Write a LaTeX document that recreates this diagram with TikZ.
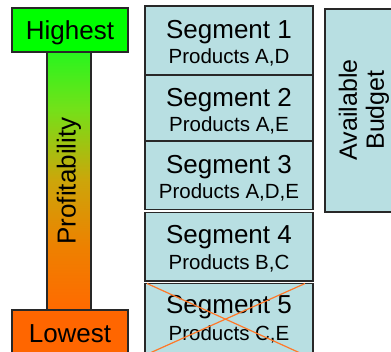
\documentclass[tikz,border=0pt]{standalone}
\usepackage{fontspec}
\setmainfont{Liberation Sans}
\usetikzlibrary{calc}

\definecolor{segfill}{RGB}{184,223,226}
\definecolor{edge}{RGB}{40,40,40}
\definecolor{hiGreen}{RGB}{0,255,0}
\definecolor{loOrange}{RGB}{255,102,0}
\definecolor{barTop}{RGB}{40,245,30}
\definecolor{barUp}{RGB}{115,225,25}
\definecolor{barMid}{RGB}{205,165,10}
\definecolor{barLow}{RGB}{238,128,0}
\definecolor{barBot}{RGB}{255,106,0}
\definecolor{crossOrange}{RGB}{255,120,40}

% green at the top fading to orange at the bottom
\pgfdeclareverticalshading{profshade}{100bp}{%
  color(0bp)=(barBot); color(25bp)=(barBot); color(37bp)=(barLow);
  color(50bp)=(barMid); color(64bp)=(barUp); color(75bp)=(barTop);
  color(100bp)=(barTop)}

\begin{document}
\begin{tikzpicture}[x=1pt,y=-1pt,
  box/.style={draw=edge, line width=1.1pt, inner sep=0pt, outer sep=0pt},
  segbox/.style={box, fill=segfill, minimum width=168pt},
  title/.style={anchor=base, font=\fontsize{26}{28}\selectfont, inner sep=0pt},
  sub/.style={anchor=base, font=\fontsize{20.5}{24}\selectfont, inner sep=0pt},
  endlabel/.style={anchor=base, font=\fontsize{26}{28}\selectfont, inner sep=0pt},
  crossline/.style={draw=crossOrange, line width=1.2pt}]
\useasboundingbox (0,0) rectangle (391,351);
\clip (0,0) rectangle (391,351);

% profitability scale
\node[box, minimum width=44pt, minimum height=258pt, shading=profshade] (bar) at (69,181) {};
\node[rotate=90, font=\fontsize{26}{28}\selectfont, inner sep=0pt] (prof) at (bar.center) {Profitability};

\node[box, fill=hiGreen, minimum width=116pt, minimum height=44pt] (hi) at (70,30) {};
\node[endlabel] (hitext) at (70,39.5) {Highest};

\node[box, fill=loOrange, minimum width=116pt, minimum height=46pt] (lo) at (70,333) {};
\node[endlabel] (lotext) at (70,342) {Lowest};

% segments
\node[segbox, minimum height=69pt] (s1) at (229,40.5) {};
\node[segbox, minimum height=66pt] (s2) at (229,108) {};
\node[segbox, minimum height=68.5pt] (s3) at (229,175.25) {};
\node[segbox, minimum height=68.5pt] (s4) at (229,246.75) {};
\node[segbox, minimum height=69pt] (s5) at (229,318) {};

\node[title] (s1t) at ($(s1.north)+(0,32)$) {Segment 1};
\node[sub]   (s1p) at ($(s1.north)+(0,57)$) {Products A,D};
\node[title] (s2t) at ($(s2.north)+(0,31)$) {Segment 2};
\node[sub]   (s2p) at ($(s2.north)+(0,56)$) {Products A,E};
\node[title] (s3t) at ($(s3.north)+(0,32)$) {Segment 3};
\node[sub]   (s3p) at ($(s3.north)+(0,57)$) {Products A,D,E};
\node[title] (s4t) at ($(s4.north)+(0,31)$) {Segment 4};
\node[sub]   (s4p) at ($(s4.north)+(0,57)$) {Products B,C};
\node[title] (s5t) at ($(s5.north)+(0,30)$) {Segment 5};
\node[sub]   (s5p) at ($(s5.north)+(0,57)$) {Products C,E};

% segment 5 struck out
\draw[crossline] ($(s5.north west)+(2,0)$) -- ($(s5.south east)+(-14,0)$);
\draw[crossline] ($(s5.north east)+(-8,0)$) -- ($(s5.south west)+(6,0)$);

% budget
\node[box, fill=segfill, minimum width=80pt, minimum height=203pt] (budget) at (365,110.5) {};
\node[rotate=90, align=center, font=\fontsize{25}{27}\selectfont, inner sep=0pt] (budtext) at (364,110) {Available\\Budget};
\end{tikzpicture}
\end{document}
